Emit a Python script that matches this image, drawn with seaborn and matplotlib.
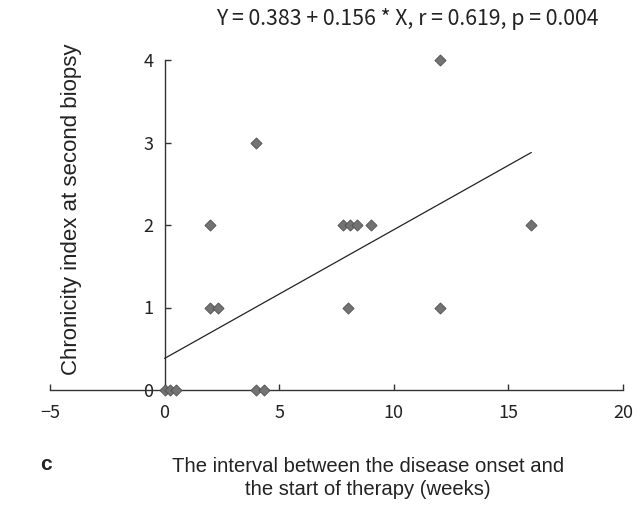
import numpy as np
import pandas as pd
import matplotlib
matplotlib.use("Agg")
import matplotlib.pyplot as plt
import seaborn as sns

# ===============================
# 1. data
# ===============================
interval_weeks = [0.0, 0.25, 0.5, 4.0, 4.35,
                  2.0, 2.35, 8.0, 12.0,
                  2.0, 7.8, 8.1, 8.4, 9.0, 16.0,
                  4.0, 12.0]
chronicity = [0, 0, 0, 0, 0,
              1, 1, 1, 1,
              2, 2, 2, 2, 2, 2,
              3, 4]

intercept = 0.383
slope = 0.156
eq_text = "Y = 0.383 + 0.156 * X, r = 0.619, p = 0.004"

x_ticks = [-5, 0, 5, 10, 15, 20]
y_ticks = [0, 1, 2, 3, 4]

df = pd.DataFrame({"x": interval_weeks, "y": chronicity})

# ===============================
# 2. style
# ===============================
sns.set_style("white")
plt.rcParams["font.family"] = ["Noto Sans CJK KR", "DejaVu Sans"]

fig = plt.figure(figsize=(6.37, 5.05), dpi=100)
ax = fig.add_axes([50 / 637, 115 / 505, 573 / 637, 330 / 505])

# ===============================
# 3. scatter + regression line
# ===============================
sns.scatterplot(data=df, x="x", y="y", ax=ax, marker="D", s=32,
                color="#737373", edgecolor="#505050", linewidth=0.6,
                clip_on=False, zorder=5, legend=False)

xs = np.array([df["x"].min(), df["x"].max()])
ax.plot(xs, intercept + slope * xs, color="#222222", lw=0.9, zorder=4)

# ===============================
# 4. axes
# ===============================
ax.set_xlim(-5, 20)
ax.set_ylim(0, 4)
ax.set_xticks(x_ticks)
ax.set_yticks(y_ticks)
ax.set_xlabel("")
ax.set_ylabel("")

for side in ["top", "right"]:
    ax.spines[side].set_visible(False)
ax.spines["left"].set_position(("data", 0))
ax.spines["bottom"].set_position(("data", 0))
for side in ["left", "bottom"]:
    ax.spines[side].set_color("#333333")
    ax.spines[side].set_linewidth(1.0)

ax.tick_params(axis="both", direction="in", length=4, width=1.0,
               bottom=True, left=True,
               color="#333333", labelsize=13, labelcolor="#222222")
ax.tick_params(axis="x", pad=10)
ax.tick_params(axis="y", pad=8)

# ===============================
# 5. texts
# ===============================
fig.text(407 / 637, 1 - 19 / 505, eq_text, ha="center", va="center",
         fontsize=15.3, color="#222222")
fig.text(72 / 637, 1 - 209 / 505, "Chronicity index at second biopsy",
         rotation=90, ha="center", va="center", fontsize=16,
         color="#222222", family=["Liberation Sans"])
fig.text(368 / 637, 1 - 478 / 505,
         "The interval between the disease onset and\nthe start of therapy (weeks)",
         ha="center", va="center", fontsize=14.6, color="#222222",
         linespacing=1.3, family=["Liberation Sans"])
fig.text(46 / 637, 1 - 465 / 505, "c", ha="center", va="center",
         fontsize=15, fontweight="bold", color="#222222",
         family=["Liberation Sans"])

fig.savefig("out.png", dpi=100, facecolor="white")
plt.close(fig)
